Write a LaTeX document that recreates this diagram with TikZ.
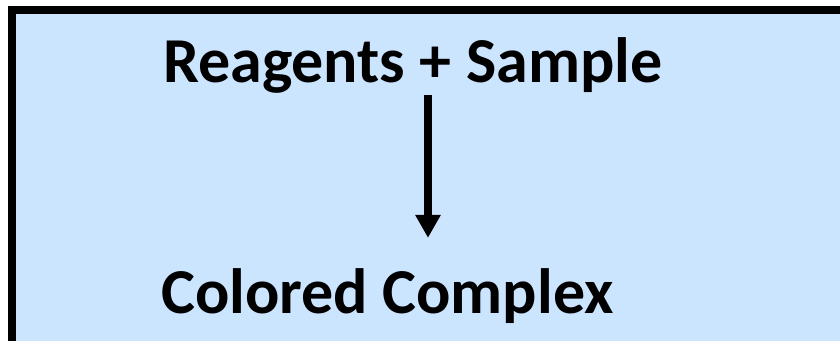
\documentclass[tikz,border=0pt]{standalone}
\usepackage{fontspec}
\setmainfont{Carlito}
\usetikzlibrary{arrows.meta, positioning, calc}
\definecolor{azulclaro}{HTML}{CCE5FF}
\colorlet{colMarco}{black}
\tikzset{
  cajaFondo/.style={draw=colMarco, line width=8pt, fill=azulclaro},
  textoGrande/.style={font=\fontsize{64}{76}\selectfont\bfseries, inner sep=0pt, anchor=base west},
  flecha/.style={-{Triangle[width=24pt, length=23pt]}, line width=8.5pt, colMarco},
}
\begin{document}
\begin{tikzpicture}[x=1pt, y=-1pt]
    \useasboundingbox (0,0) rectangle (840,340);
    \begin{scope}
      \clip (0,0) rectangle (840,340);
      \draw[cajaFondo] (12,10) rectangle (860,360);
    \end{scope}
    \node[textoGrande] (reactivos) at (163,82) {Reagents + Sample};
    \node[textoGrande] (complejo) at (161,313) {Colored Complex};
    \coordinate (inicio) at (428,95);
    \coordinate (fin) at ($(inicio |- complejo.north)+(0,-30)$);
    \draw[flecha] (inicio) -- (fin);
\end{tikzpicture}
\end{document}
